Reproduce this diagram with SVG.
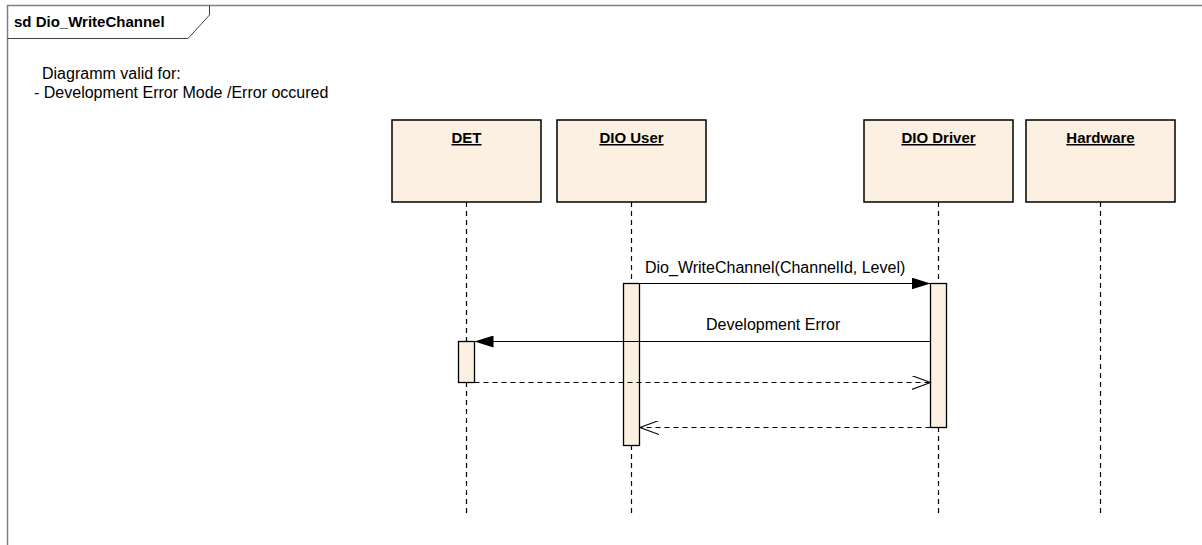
<svg xmlns="http://www.w3.org/2000/svg" width="1202" height="545" viewBox="0 0 1202 545">
  <style>
    text { font-family: "Liberation Sans", Arial, sans-serif; font-size: 16px; fill: #000; }
    .title { font-weight: bold; font-size: 15px; }
    .head { font-weight: bold; font-size: 15px; text-decoration: underline; }
    .box { fill: #FBF0E2; stroke: #000; stroke-width: 1.5; }
    .act { fill: #FBF0E2; stroke: #000; stroke-width: 1.3; }
    .life { stroke: #000; stroke-width: 1.2; stroke-dasharray: 5 4; fill: none; }
    .msg { stroke: #000; stroke-width: 1.2; fill: none; }
    .ret { stroke: #000; stroke-width: 1.2; fill: none; stroke-dasharray: 5 4; }
  </style>
  <defs>
    <marker id="sync" markerWidth="20" markerHeight="12" refX="19" refY="6" orient="auto" markerUnits="userSpaceOnUse">
      <path d="M0,0 L19,6 L0,12 Z" fill="#000"/>
    </marker>
    <marker id="open" markerWidth="20" markerHeight="14" refX="19" refY="7" orient="auto" markerUnits="userSpaceOnUse">
      <path d="M0,0 L19,7 L0,14" fill="none" stroke="#000" stroke-width="1.1"/>
    </marker>
  </defs>
  <rect width="1202" height="545" fill="#fff"/>

  <!-- frame -->
  <g id="frame">
    <path d="M7.5,545 L7.5,5.5 L1202,5.5" fill="none" stroke="#808080" stroke-width="1.5"/>
    <path d="M7.5,38.5 L188,38.5 L209.5,15 L209.5,5.5" fill="none" stroke="#404040" stroke-width="1"/>
    <text class="title" x="14" y="27">sd Dio_WriteChannel</text>
    <text x="42" y="79">Diagramm valid for:</text>
    <text x="34" y="98">- Development Error Mode /Error occured</text>
  </g>

  <!-- lifelines -->
  <g id="lifelines">
    <line class="life" x1="466.5" y1="202" x2="466.5" y2="517"/>
    <line class="life" x1="631.5" y1="202" x2="631.5" y2="517"/>
    <line class="life" x1="938.5" y1="202" x2="938.5" y2="517"/>
    <line class="life" x1="1100.5" y1="202" x2="1100.5" y2="517"/>
  </g>

  <g id="det">
    <rect class="box" x="392" y="120" width="149" height="82"/>
    <text class="head" x="466.5" y="143" text-anchor="middle">DET</text>
  </g>
  <g id="dio-user">
    <rect class="box" x="557" y="120" width="149" height="82"/>
    <text class="head" x="631.5" y="143" text-anchor="middle">DIO User</text>
  </g>
  <g id="dio-driver">
    <rect class="box" x="864" y="120" width="149" height="82"/>
    <text class="head" x="938.5" y="143" text-anchor="middle">DIO Driver</text>
  </g>
  <g id="hardware">
    <rect class="box" x="1026" y="120" width="149" height="82"/>
    <text class="head" x="1100.5" y="143" text-anchor="middle">Hardware</text>
  </g>

  <!-- activation bars -->
  <g id="activations">
    <rect class="act" x="623.5" y="283.5" width="16" height="162"/>
    <rect class="act" x="930.5" y="283.5" width="16" height="144"/>
    <rect class="act" x="458.5" y="341.5" width="16" height="41"/>
  </g>

  <!-- messages -->
  <g id="connectors">
    <line class="msg" x1="639.5" y1="283.5" x2="930.5" y2="283.5" marker-end="url(#sync)"/>
    <text x="645" y="273">Dio_WriteChannel(ChannelId, Level)</text>
    <line class="msg" x1="930.5" y1="341.5" x2="474.5" y2="341.5" marker-end="url(#sync)"/>
    <text x="706" y="330">Development Error</text>
    <line class="ret" x1="474.5" y1="382.5" x2="930.5" y2="382.5" marker-end="url(#open)"/>
    <line class="ret" x1="930.5" y1="427.5" x2="640" y2="427.5" marker-end="url(#open)"/>
  </g>
</svg>
